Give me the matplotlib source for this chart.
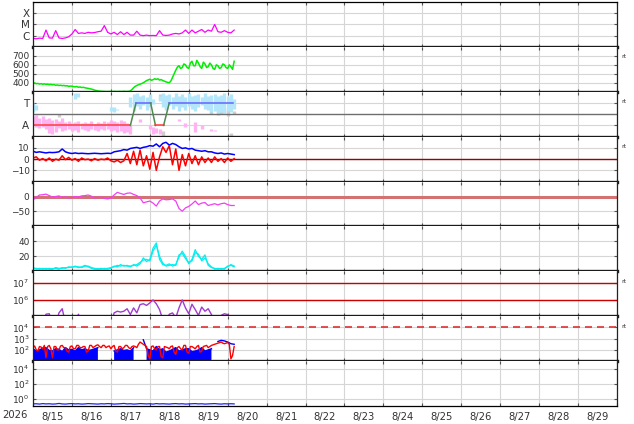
import datetime as dt
import numpy as np
import matplotlib
import matplotlib.pyplot as plt
import matplotlib.dates as mdates
from matplotlib.ticker import FixedLocator, FuncFormatter, NullFormatter, NullLocator

matplotlib.use('Agg')

# time base: series are sampled every 2 hours from 8/15 00:00 (hourly where noted)
START = dt.datetime(2026, 8, 15)
END = dt.datetime(2026, 8, 30)
STEP_H = 2

# panel 1 - x-ray flux, log10(W/m2)
xray_log = [-6.25, -6.28, -6.22, -6.25, -5.5, -6.2, -6.22, -5.55, -6.2, -6.25,
            -6.2, -6.1, -5.85, -5.45, -5.8, -5.75, -5.8, -5.7, -5.75, -5.72,
            -5.65, -5.6, -5.1, -5.7, -5.85, -5.7, -5.9, -5.65, -5.9, -5.7,
            -5.95, -5.95, -5.6, -5.95, -6.0, -5.95, -6.0, -5.98, -6.0, -5.55,
            -5.95, -5.98, -5.95, -5.85, -5.8, -5.85, -5.75, -5.5, -5.8, -5.5,
            -5.75, -5.6, -5.45, -5.7, -5.5, -5.6, -5.0, -5.65, -5.7, -5.55,
            -5.7, -5.75, -5.5]

# panel 2 - solar wind speed (hourly)
speed = [395, 398, 390, 393, 386, 390, 384, 388, 382, 385,
         379, 383, 377, 380, 372, 376, 370, 373, 368, 371,
         365, 368, 360, 364, 362, 358, 355, 359, 350, 354,
         347, 350, 345, 341, 338, 334, 330, 325, 318, 314,
         310, 307, 305, 304, 303, 302, 302, 303, 303, 302,
         304, 303, 302, 304, 303, 302, 305, 303, 303, 304,
         310, 325, 345, 360, 370, 378, 385, 392, 400, 412,
         425, 432, 440, 428, 435, 445, 438, 445, 430, 436,
         425, 418, 410, 405, 400, 420, 460, 500, 540, 575,
         590, 560, 570, 610, 600, 570, 560, 620, 640, 590,
         590, 650, 620, 580, 560, 630, 610, 570, 580, 620,
         600, 560, 550, 600, 590, 560, 570, 610, 600, 570,
         560, 600, 580, 550, 640]

# panel 3 - sector (A = -1, T = +1)
pink_hours = [0, 2, 4, 6, 8, 10, 12, 14, 16, 18, 20, 22, 24, 26, 28, 30,
              32, 34, 36, 38, 40, 42, 44, 46, 48, 50, 52, 54, 56, 58, 60,
              66, 72, 74, 76, 78, 90, 94, 100, 104, 110, 112]
pink_hi = [-0.2, -0.1, -0.3, -0.2, -0.4, -0.3, -0.5, -0.4, -0.6, -0.3, -0.7,
           -0.6, -0.8, -0.7, -0.6, -0.8, -0.7, -0.8, -0.6, -0.9, -0.7, -0.8,
           -0.6, -0.7, -0.5, -0.6, -0.7, -0.5, -0.6, -0.8, -0.9,
           -0.4, -1.0, -1.1, -1.2, -1.3, -0.4, -0.8, -0.7, -1.0, -1.3, -1.4]
pink_lo = [-1.0, -1.1, -1.2, -1.1, -1.3, -1.7, -1.8, -1.6, -1.2, -1.5, -1.4,
           -1.3, -1.5, -1.4, -1.6, -1.3, -1.4, -1.5, -1.3, -1.4, -1.5, -1.3,
           -1.4, -1.3, -1.5, -1.4, -1.6, -1.5, -1.7, -1.6, -1.8,
           -0.7, -1.3, -1.8, -1.7, -1.8, -0.6, -1.1, -1.6, -1.3, -1.5, -1.5]

blue_hours = [0, 2, 26, 28, 48, 50, 52, 60, 62, 64, 66, 68, 70, 72, 74,
              78, 80, 82, 84, 86, 88, 90, 92, 94, 96, 98, 100, 102, 104,
              106, 108, 110, 112, 114, 116, 118, 120, 122, 124]
blue_lo = [0.2, 0.4, 1.4, 1.5, 0.3, 0.2, 0.4, 0.6, 0.3, 0.7, 0.5, 0.8, 0.4,
           0.6, 0.9, 1.2, 0.6, 0.4, 0.8, 0.5, 0.7, 0.3, 0.6, 0.4, 0.7, 0.5,
           0.3, 0.6, 0.8, 0.5, 0.4, 0.2, 0.3, 0.1, 0.2, 0.1, 0.3, 0.2, 0.5]
blue_hi = [1.0, 0.8, 1.9, 1.9, 0.6, 0.6, 0.5, 1.5, 1.8, 1.9, 1.6, 1.7, 1.5,
           1.8, 1.4, 1.6, 1.9, 1.7, 1.8, 1.5, 1.9, 1.6, 1.8, 1.5, 1.9, 1.6,
           1.7, 1.8, 1.5, 1.9, 1.6, 1.7, 1.8, 1.6, 1.7, 1.9, 1.6, 1.8, 1.4]

gray_hours = [16, 78, 80, 82, 110, 114, 116, 118, 120, 122, 124]
gray_lo = [-0.25, 1.3, -1.9, 0.5, 0.0, -0.1, 0.0, 0.1, -0.2, -1.9, 0.0]
gray_hi = [0.05, 1.8, -1.5, 1.0, 0.4, 0.3, 0.5, 0.6, 0.4, -1.7, 0.3]

sector_hours = [0, 60, 63.5, 72.5, 75.5, 80.5, 84, 123]
sector_vals = [-1, -1, 1, 1, -1, -1, 1, 1]

# panel 4 - IMF Bt and Bz (nT)
bt = [7, 6, 6.5, 6, 5.5, 6, 5.8, 6, 6.5, 9,
      6.5, 5.5, 5, 5.5, 5, 5.2, 5, 4.8, 5, 5.2,
      5, 4.8, 5, 5.2, 5, 6.5, 7, 7.5, 8.5, 8,
      9.5, 10, 10.5, 9.5, 10.5, 11, 12, 11.5, 13.5, 11,
      14, 15, 12.5, 14, 13, 11, 9.5, 10, 9, 9.5,
      8, 7.5, 7, 7.5, 6.5, 6.5, 5.5, 5, 5.5, 4.5,
      5, 4.5, 4]
bz = [1, 2, -1, 0.5, -1.5, 1, -2, 0, -1, 3,
      -0.5, 1.5, -1, 0.5, -2, 1, -0.5, 0, -1.5, 0.5,
      -1, 0, -0.5, 1, -1.5, -2.5, -1, -3, -1.5, 5,
      -4, 7, -5, 8, -6, 3, -9, 6, -10, 2,
      11, 6, 12, -5, 9, -10, 4, -6, 5, -4,
      3, -5, 2, -3, 1, -3, 2, -2, 0.5, -3,
      1, -2, 0.5]

# panel 5 - Dst (nT)
dst = [-11, -3, 5, 6, 8, 3, -2, 0, 2, -3,
       -1, -5, -3, 0, -2, 2, 3, 5, 1, -5,
       -3, -2, -6, -8, -5, 5, 14, 10, 7, 11,
       12, 7, 3, -5, -21, -18, -15, -22, -32, -15,
       -8, -11, -10, -8, -15, -40, -49, -38, -33, -25,
       -15, -27, -22, -20, -30, -27, -24, -28, -24, -22,
       -27, -30, -30]

# panel 6 - proton density, two sources
dens_a = [5, 3, 4, 3, 4, 3, 3.5, 4, 3, 5,
          4, 6, 5, 7, 5, 6, 8, 6, 4, 3,
          3.5, 3, 4, 3, 4, 7, 6, 9, 7, 8,
          6, 9, 7, 10, 18, 13, 16, 31, 38, 16,
          9, 8, 10, 7, 9, 19, 27, 20, 10, 16,
          29, 20, 16, 22, 8, 5, 4, 3, 4, 3,
          7, 8, 6]
dens_b = [4, 4, 3, 4, 3, 4, 3, 5, 4, 4,
          5, 5, 6, 6, 6, 5, 7, 7, 5, 4,
          3, 4, 3, 4, 5, 6, 8, 7, 8, 7,
          7, 8, 9, 12, 15, 16, 14, 27, 35, 20,
          11, 7, 8, 9, 8, 22, 24, 17, 12, 14,
          25, 23, 14, 18, 10, 6, 3, 4, 3, 4,
          6, 9, 7]

# panel 7 - electron flux, log10
elec_log = [4.5, 4.5, 4.5, 4.5, 5.12, 5.15, 4.6, 4.5, 5.2, 5.45,
            4.6, 4.5, 4.5, 4.5, 5.12, 4.6, 4.5, 4.5, 4.5, 4.5,
            4.5, 4.5, 4.5, 4.5, 4.5, 5.2, 5.3, 5.25, 5.3, 5.45,
            5.1, 5.5, 5.2, 5.7, 5.75, 5.65, 5.8, 5.98, 5.75, 5.4,
            4.8, 4.6, 5.12, 5.2, 4.9, 5.5, 5.98, 5.5, 5.15, 5.72,
            5.4, 5.05, 5.55, 5.3, 5.45, 5.1, 4.6, 4.5, 5.05, 5.15,
            5.1, 4.8, 4.6]

# panel 8 - proton flux, log10 (red hourly, blue top every 2 h, nan = no data)
nan = float('nan')
prot_red_log = [2.2, 2.35, 2.0, 1.9, 2.3, 2.25, 2.1, 2.4, 1.3, 2.3,
                2.4, 2.1, 1.3, 2.3, 2.3, 2.0, 2.0, 2.35, 2.4, 2.2,
                2.2, 1.9, 1.8, 2.3, 2.35, 2.1, 2.1, 2.4, 2.4, 2.2,
                2.2, 2.3, 2.3, 1.8, 1.9, 2.4, 2.4, 2.2, 2.3, 2.4,
                2.45, 2.3, 2.2, 2.4, 2.4, 2.2, 2.3, 2.35, 2.1, 2.3,
                2.4, 1.9, 1.8, 2.3, 2.3, 2.1, 2.2, 2.4, 2.4, 2.2,
                2.1, 2.3, 2.35, 2.3, 2.2, 2.5, 2.7, 2.6, 2.5, 2.4,
                2.3, 1.5, 1.2, 2.3, 2.35, 2.1, 2.0, 2.3, 2.3, 1.4,
                1.3, 2.3, 2.25, 2.2, 2.1, 2.3, 2.35, 1.8, 1.6, 2.2,
                2.3, 2.1, 2.0, 2.4, 2.4, 1.8, 1.7, 2.3, 2.3, 2.2,
                2.1, 2.3, 2.4, 1.8, 1.9, 2.3, 2.35, 2.4, 2.2, 2.3,
                2.4, 2.45, 2.5, 2.55, 2.6, 2.65, 2.7, 2.6, 2.55, 2.6,
                2.65, 2.5, 1.2, 1.5, 2.3]
prot_blue_log = [2.1, 1.9, 2.0, 2.15, 2.2, 1.95, 1.9, 2.1, 2.05, 1.85,
                 2.2, 2.0, 2.05, 1.9, 2.2, 2.0, 2.1, 1.95, 2.0, 2.1,
                 2.2, nan, nan, nan, nan, 1.9, 2.0, 2.1, 1.95, 2.0,
                 1.9, 2.2, nan, nan, 2.9, 2.1, 2.0, 1.9, 2.3, 2.0,
                 2.1, 1.8, 1.9, 2.05, 2.2, 1.9, 2.0, 2.1, 2.1, 1.85,
                 1.9, 2.0, 2.2, 1.9, 2.0, 2.1, nan, 2.75, 2.85, 2.8,
                 2.7, 2.55, 2.5]

# panel 9 - low flux channel
low_flux = [0.19, 0.2, 0.18, 0.21, 0.19, 0.2, 0.18, 0.19, 0.22, 0.19,
            0.18, 0.2, 0.21, 0.19, 0.2, 0.18, 0.19, 0.21, 0.2, 0.19,
            0.18, 0.2, 0.19, 0.21, 0.2, 0.18, 0.19, 0.2, 0.22, 0.19,
            0.2, 0.18, 0.19, 0.21, 0.2, 0.19, 0.2, 0.18, 0.21, 0.19,
            0.2, 0.19, 0.18, 0.2, 0.21, 0.19, 0.2, 0.18, 0.19, 0.2,
            0.21, 0.19, 0.2, 0.18, 0.19, 0.2, 0.21, 0.19, 0.18, 0.2,
            0.19, 0.2, 0.19]

# panels that carry the small "rt" tag at the right
rt_panels = [1, 2, 3, 6, 7]

GRID = '#d6d6d6'
TXT = '#333333'


def hours_to_dates(hours):
    return mdates.date2num(START) + np.asarray(hours, dtype=float) / 24.0


def series_time(values, step=STEP_H):
    return hours_to_dates(np.arange(len(values)) * step)


def style_axis(ax, idx, n):
    ax.set_axisbelow(True)
    ax.grid(True, which='major', color=GRID, lw=0.8)
    for side in ('left', 'right'):
        ax.spines[side].set_linewidth(0.9)
        ax.spines[side].set_color('#222222')
    if idx == 0:
        ax.spines['top'].set_linewidth(0.9)
    else:
        ax.spines['top'].set_visible(False)
    if idx < n - 1:
        ax.spines['bottom'].set_linewidth(2.4)
        ax.spines['bottom'].set_color('#1a1a1a')
    else:
        ax.spines['bottom'].set_linewidth(0.9)
    ax.tick_params(axis='y', which='both', direction='in', length=2.5,
                   right=True, labelsize=6.5, labelcolor=TXT, pad=2.5,
                   color='#555555')
    ax.tick_params(axis='x', which='major', direction='in', length=2.5,
                   top=True, color='#555555')
    ax.tick_params(axis='x', which='minor', length=0, labelsize=7.2,
                   labelcolor=TXT, pad=4)


def set_log_ticks(ax, exps):
    ax.set_yscale('log')
    ax.yaxis.set_major_locator(FixedLocator([10.0 ** e for e in exps]))
    ax.yaxis.set_major_formatter(FuncFormatter(lambda v, p: '$10^{%d}$' % round(np.log10(v))))
    ax.yaxis.set_minor_locator(NullLocator())


def main():
    fig, axes = plt.subplots(9, 1, sharex=True, figsize=(6.34, 4.24), dpi=100,
                             gridspec_kw=dict(hspace=0))
    fig.subplots_adjust(left=33 / 634, right=617 / 634, top=1 - 2 / 424, bottom=1 - 406 / 424)
    n = len(axes)
    for i, ax in enumerate(axes):
        style_axis(ax, i, n)

    # 1 x-ray
    ax = axes[0]
    ax.plot(series_time(xray_log), 10.0 ** np.array(xray_log), color='#ff00ff', lw=0.9)
    ax.set_yscale('log')
    ax.set_ylim(1e-7, 1e-3)
    ax.yaxis.set_major_locator(FixedLocator([1e-6, 1e-5, 1e-4]))
    ax.yaxis.set_major_formatter(FuncFormatter(lambda v, p: {-6: 'C', -5: 'M', -4: 'X'}[round(np.log10(v))]))
    ax.yaxis.set_minor_locator(NullLocator())
    ax.tick_params(axis='y', labelsize=7.5)

    # 2 speed
    ax = axes[1]
    ax.plot(series_time(speed, 1), speed, color='#00ee00', lw=1.1)
    ax.set_ylim(300, 800)
    ax.set_yticks([400, 500, 600, 700])

    # 3 sector
    ax = axes[2]
    ax.vlines(hours_to_dates(gray_hours), gray_lo, gray_hi, colors='#cfcfcf', lw=2.4)
    ax.vlines(hours_to_dates(pink_hours), pink_lo, pink_hi, colors='#ffb3f3', lw=2.4)
    ax.vlines(hours_to_dates(blue_hours), blue_lo, blue_hi, colors='#b3e6fb', lw=2.4)
    ax.axhline(0, color='#6e6e6e', lw=1.0)
    sx = hours_to_dates(sector_hours)
    for k in range(len(sector_hours) - 1):
        a, b = sector_vals[k], sector_vals[k + 1]
        c = '#ff3b3b' if a == b == -1 else ('#6464ff' if a == b == 1 else '#4d8a4d')
        ax.plot(sx[k:k + 2], sector_vals[k:k + 2], color=c, lw=1.1)
    ax.set_ylim(-2, 2)
    ax.set_yticks([-1, 1])
    ax.set_yticklabels(['A', 'T'])
    ax.tick_params(axis='y', labelsize=7.5)

    # 4 IMF
    ax = axes[3]
    ax.axhline(0, color='#a00000', lw=1.0)
    ax.plot(series_time(bt), bt, color='#0000ff', lw=1.1)
    ax.plot(series_time(bz), bz, color='#ff0000', lw=1.1)
    ax.set_ylim(-20, 20)
    ax.set_yticks([-10, 0, 10])

    # 5 Dst
    ax = axes[4]
    ax.axhline(0, color='#d27272', lw=2.2)
    ax.plot(series_time(dst), dst, color='#f040f0', lw=0.9)
    ax.set_ylim(-100, 50)
    ax.set_yticks([-50, 0])

    # 6 density
    ax = axes[5]
    ax.plot(series_time(dens_a), dens_a, color='#00f0f0', lw=0.9)
    ax.plot(series_time(dens_b), dens_b, color='#00f0f0', lw=0.9)
    ax.set_ylim(0, 60)
    ax.set_yticks([20, 40])

    # 7 electrons
    ax = axes[6]
    set_log_ticks(ax, [6, 7])
    for lvl in (1e6, 1e7):
        ax.axhline(lvl, color='#c80000', lw=1.0)
    ax.plot(series_time(elec_log), 10.0 ** np.array(elec_log), color='#a03cd0', lw=1.0)
    ax.set_ylim(1e5, 5e7)

    # 8 protons: blue is dense down to the floor, drawn as a filled band
    ax = axes[7]
    set_log_ticks(ax, [2, 3, 4])
    ax.axhline(1e4, color='#e03030', lw=1.2, ls=(0, (4.2, 3.0)))
    bx = series_time(prot_blue_log)
    blue_arr = np.array(prot_blue_log)
    by = 10.0 ** blue_arr
    ax.fill_between(bx, 1, by, where=blue_arr < 2.5, color='#0000ff', lw=0)
    ax.plot(bx, by, color='#0000ff', lw=1.0)
    ax.plot(series_time(prot_red_log, 1), 10.0 ** np.array(prot_red_log), color='#ff0000', lw=1.0)
    ax.set_ylim(10, 1e5)

    # 9 low flux
    ax = axes[8]
    set_log_ticks(ax, [0, 2, 4])
    ax.plot(series_time(low_flux), low_flux, color='#2020ff', lw=0.9)
    ax.set_ylim(0.1, 1e5)

    # shared time axis: grid at midnight, labels at noon
    ax = axes[-1]
    ax.set_xlim(mdates.date2num(START), mdates.date2num(END))
    ax.xaxis.set_major_locator(mdates.DayLocator())
    ax.xaxis.set_major_formatter(NullFormatter())
    ax.xaxis.set_minor_locator(mdates.HourLocator(byhour=[12]))
    ax.xaxis.set_minor_formatter(FuncFormatter(
        lambda v, p: '%d/%d' % (mdates.num2date(v).month, mdates.num2date(v).day)))

    fig.text(2 / 634, 1 - 415 / 424, str(START.year), fontsize=7.2, color=TXT, va='center', ha='left')

    for i in rt_panels:
        bb = axes[i].get_position()
        fig.text(621 / 634, bb.y1 - 10 / 424, 'rt', fontsize=4.5, color=TXT, va='center', ha='left')

    fig.savefig('out.png', dpi=100)
    plt.close(fig)


if __name__ == '__main__':
    main()
